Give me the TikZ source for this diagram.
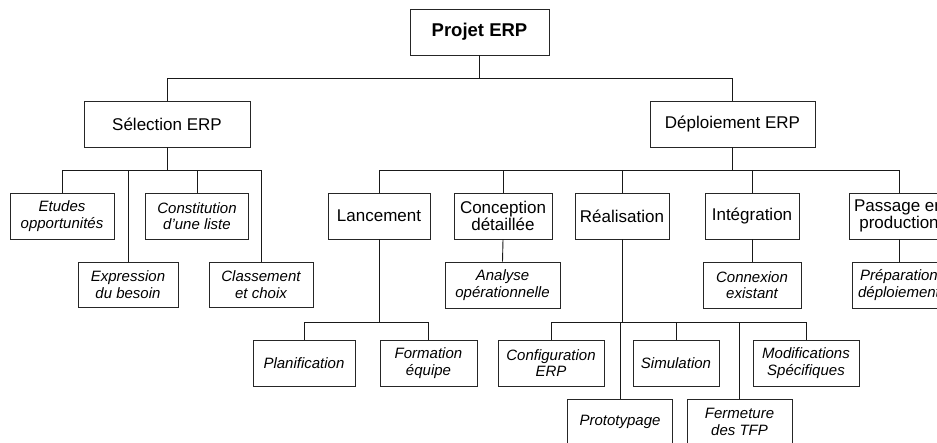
\documentclass[tikz,border=0pt]{standalone}
\usepackage{fontspec}
\setmainfont{Liberation Sans}
\begin{document}
\begin{tikzpicture}[x=1pt,y=-1pt,
  box/.style={draw=black!85,line width=0.9pt,fill=white,inner sep=0pt,
    align=center,minimum height=46pt},
  rootbox/.style={box,font=\fontsize{18.5}{18}\selectfont\bfseries},
  mainbox/.style={box,font=\fontsize{17}{15.5}\selectfont},
  taskbox/.style={box,font=\fontsize{15}{16.5}\selectfont\itshape},
  link/.style={draw=black!90,line width=0.9pt}]
\useasboundingbox (0,0) rectangle (937,443);
\clip (0,0) rectangle (937,443);

% level 0 and 1
\node[rootbox,minimum width=139pt] (root) at (479.5,32) {Projet ERP};
\node[mainbox,minimum width=166pt] (sel) at (167,124) {Sélection ERP};
\node[mainbox,minimum width=165pt] (dep) at (732.5,124) {Déploiement ERP};

% selection branch
\node[taskbox,minimum width=104pt] (etudes) at (62,216) {Etudes\\opportunités};
\node[taskbox,minimum width=103pt] (constit) at (197,216) {Constitution\\d'une liste};
\node[taskbox,minimum width=100pt,minimum height=45pt] (expr) at (128,284.5) {Expression\\du besoin};
\node[taskbox,minimum width=104pt,minimum height=45pt] (classt) at (261,284.5) {Classement\\et choix};

% deployment phases
\node[mainbox,minimum width=102pt] (lanc) at (379,216) {Lancement};
\node[mainbox,minimum width=98pt] (conc) at (503,216) {Conception\\détaillée};
\node[mainbox,minimum width=94pt] (real) at (622,216) {Réalisation};
\node[mainbox,minimum width=94pt] (integ) at (752,216) {Intégration};
\node[mainbox,minimum width=100pt] (pass) at (899,216) {Passage en\\production};

% tasks under phases
\node[taskbox,minimum width=115pt] (analyse) at (502.5,285) {Analyse\\opérationnelle};
\node[taskbox,minimum width=98pt] (connex) at (752,285) {Connexion\\existant};
\node[taskbox,minimum width=94pt] (prep) at (899,285) {Préparation\\déploiement};

\node[taskbox,minimum width=102pt] (plan) at (304,363) {Planification};
\node[taskbox,minimum width=97pt] (form) at (428.5,363) {Formation\\équipe};

\node[taskbox,minimum width=106pt] (config) at (551,363) {Configuration\\ERP};
\node[taskbox,minimum width=86pt] (simul) at (676,363) {Simulation};
\node[taskbox,minimum width=106pt] (modif) at (806,363) {Modifications\\Spécifiques};
\node[taskbox,minimum width=105pt] (proto) at (620,422) {Prototypage};
\node[taskbox,minimum width=105pt] (ferm) at (739.5,422) {Fermeture\\des TFP};

% bus coordinates
\coordinate (rootbus) at (root.south |- 0,78);
\coordinate (selbus) at (sel.south |- 0,170);
\coordinate (depbus) at (dep.south |- 0,170);
\coordinate (lancbus) at (lanc.south |- 0,322);
\coordinate (realbus) at (real.south |- 0,322);

% connectors
\path[link] (root.south) -- (rootbus) -| (sel.north);
\path[link] (rootbus) -| (dep.north);

\path[link] (sel.south) -- (selbus) -| (etudes.north);
\path[link] (selbus) -| (expr.north);
\path[link] (selbus) -| (constit.north);
\path[link] (selbus) -| (classt.north);

\path[link] (dep.south) -- (depbus) -| (lanc.north);
\path[link] (depbus) -| (conc.north);
\path[link] (depbus) -| (real.north);
\path[link] (depbus) -| (integ.north);
\path[link] (depbus) -| (pass.north);

\path[link] (conc.south) -- (analyse.north);
\path[link] (integ.south) -- (connex.north);
\path[link] (pass.south) -- (prep.north);

\path[link] (lanc.south) -- (lancbus) -| (plan.north);
\path[link] (lancbus) -| (form.north);

\path[link] (real.south) -- (realbus) -| (config.north);
\path[link] (realbus) -| (proto.north);
\path[link] (realbus) -| (simul.north);
\path[link] (realbus) -| (ferm.north);
\path[link] (realbus) -| (modif.north);
\end{tikzpicture}
\end{document}
